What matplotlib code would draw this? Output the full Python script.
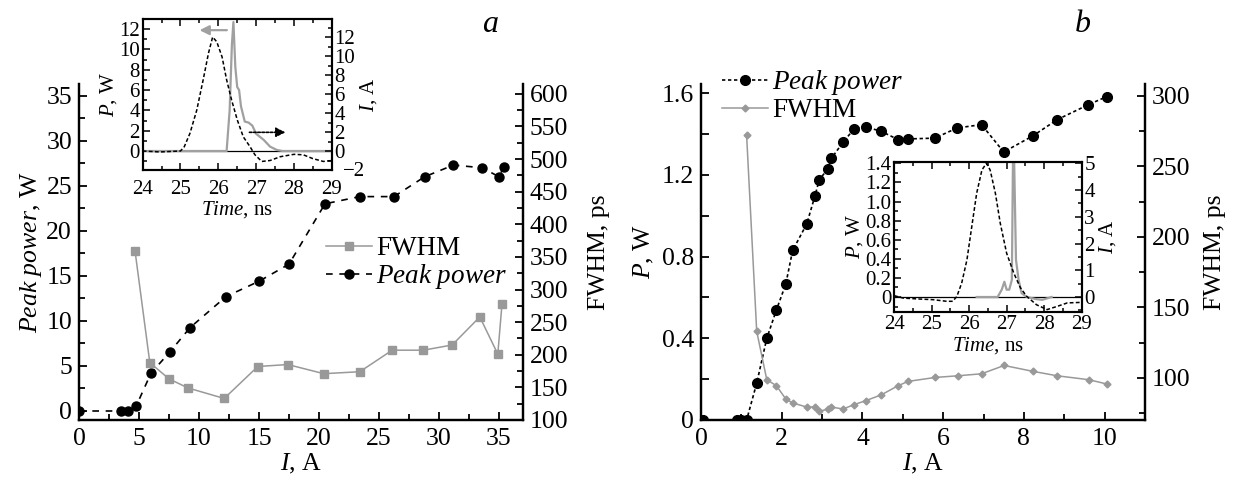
import numpy as np
import matplotlib.pyplot as plt
from matplotlib.ticker import MultipleLocator, FuncFormatter

plt.rcParams['font.family'] = ['Liberation Serif', 'DejaVu Serif']
plt.rcParams['mathtext.fontset'] = 'custom'
plt.rcParams['mathtext.rm'] = 'Liberation Serif'
plt.rcParams['mathtext.it'] = 'Liberation Serif:italic'

# ---- panel a: main ----
I_pk_a = [0.0, 3.5, 4.1, 4.75, 6.0, 7.6, 9.25, 12.25, 15.0, 17.5, 20.5, 23.4, 26.25, 28.8, 31.2, 33.6, 35.0, 35.4]
P_pk_a = [0.0, 0.0, 0.0, 0.5, 4.2, 6.6, 9.25, 12.7, 14.4, 16.3, 23.0, 23.8, 23.8, 26.0, 27.3, 27.0, 26.0, 27.1]
I_fw_a = [4.67, 5.9, 7.5, 9.1, 12.1, 14.9, 17.4, 20.4, 23.4, 26.1, 28.7, 31.1, 33.4, 34.9, 35.25]
FW_a = [359, 188, 163, 149, 133, 182, 185, 171, 174, 207, 207, 215, 258, 201, 278]

# ---- panel a: inset ----
t_a_I = [24.0, 24.46, 25.0, 25.1, 25.25, 25.43, 25.6, 25.74, 25.85, 25.96, 26.1, 26.22, 26.35,
         26.5, 26.66, 26.84, 26.97, 27.15, 27.37, 27.64, 28.0, 28.25, 28.5, 28.78, 29.0]
I_a = [0, -0.1, 0, 0.45, 1.86, 4.3, 7.5, 10.3, 12.0, 11.5, 9.9, 7.5, 5.4,
       3.3, 1.5, 0.45, -0.4, -1.1, -1.0, -0.6, -0.35, -0.4, -0.8, -1.1, -1.0]
t_a_P = [24.0, 26.22, 26.3, 26.36, 26.4, 26.45, 26.5, 26.55, 26.6, 26.7, 26.8, 26.9, 27.0,
         27.2, 27.37, 27.55, 27.7, 29.0]
P_a = [0, 0, 4.0, 10.5, 12.7, 8.3, 6.3, 6.0, 4.4, 2.9, 2.8, 2.5, 1.7, 1.1, 0.43, 0.1, 0, 0]

# ---- panel b: main ----
I_pk_b = [0.05, 0.88, 1.0, 1.13, 1.38, 1.63, 1.87, 2.10, 2.27, 2.62, 2.82, 2.93, 3.14, 3.23,
          3.52, 3.8, 4.08, 4.47, 4.88, 5.13, 5.79, 6.35, 6.95, 7.5, 8.23, 8.82, 9.6, 10.05]
P_pk_b = [0.0, 0.0, 0.0, 0.0, 0.18, 0.40, 0.54, 0.665, 0.83, 0.96, 1.095, 1.176, 1.229, 1.281,
          1.36, 1.427, 1.435, 1.413, 1.373, 1.376, 1.38, 1.43, 1.446, 1.312, 1.392, 1.47, 1.544, 1.583]
I_fw_b = [1.13, 1.38, 1.63, 1.87, 2.10, 2.27, 2.62, 2.82, 2.93, 3.14, 3.23, 3.52, 3.79, 4.08,
          4.47, 4.88, 5.13, 5.8, 6.37, 6.95, 7.51, 8.23, 8.82, 9.61, 10.06]
FW_b = [272, 133, 98.6, 94.3, 84.9, 82.1, 79.2, 79.2, 76.1, 77.8, 79.2, 77.8, 80.9, 83.7,
        87.9, 94.3, 97.4, 100.2, 101.4, 102.8, 108.7, 104.5, 101.4, 98.6, 95.5]

# ---- panel b: inset ----
t_b_I = [24.0, 24.24, 24.6, 25.04, 25.4, 25.56, 25.67, 25.8, 25.94, 26.07, 26.2, 26.34, 26.46,
         26.56, 26.7, 26.83, 27.0, 27.19, 27.37, 27.54, 27.8, 28.08, 28.35, 28.62, 29.0]
I_b = [0.05, -0.04, -0.07, -0.1, -0.16, -0.16, 0.02, 0.52, 1.39, 2.64, 3.88, 4.75, 5.0,
       4.75, 3.88, 2.76, 1.64, 0.9, 0.34, 0.02, -0.29, -0.47, -0.35, -0.22, -0.2]
t_b_P = [26.2, 26.76, 26.87, 26.94, 27.0, 27.07, 27.14, 27.17, 27.2, 27.25, 27.32, 27.4,
         27.54, 27.76, 27.95, 28.2]
P_b = [0, 0, 0.077, 0.16, 0.077, 0.077, 0.18, 1.45, 1.45, 0.39, 0.18, 0.04, 0, -0.02, -0.03, 0]

GREY = '#999999'
FS = 18.5
FS_IN = 15
W, H = 1234, 480


def rect(x0, x1, ytop, ybot):
    return [x0 / W, 1 - ybot / H, (x1 - x0) / W, (ybot - ytop) / H]


def style_main(ax, ax2):
    for a in (ax, ax2):
        a.spines['top'].set_visible(False)
        for s in ('left', 'right', 'bottom'):
            a.spines[s].set_linewidth(1.6)
        a.tick_params(which='both', direction='in', labelsize=FS, width=1.3, top=False)
        a.tick_params(which='major', length=6)
        a.tick_params(which='minor', length=4)
    ax.tick_params(axis='y', right=False, pad=5)
    ax2.tick_params(axis='y', left=False, pad=5)
    ax.tick_params(axis='x', pad=6)


def style_inset(ax, ax2):
    for a in (ax, ax2):
        for s in a.spines.values():
            s.set_linewidth(1.5)
        a.tick_params(which='both', direction='in', labelsize=FS_IN, width=1.1, top=True, pad=2)
        a.tick_params(which='major', length=5)
        a.tick_params(which='minor', length=3)
    ax.tick_params(axis='y', right=False)
    ax2.tick_params(axis='y', left=False)


fig = plt.figure(figsize=(12.34, 4.8), dpi=100)

# ================= panel a =================
ax = fig.add_axes(rect(79, 523, 84, 420))
ax2 = ax.twinx()
ax.set_xlim(0, 37)
ax.set_ylim(-1, 36.3)
ax2.set_ylim(100, 615)
ax.plot(I_pk_a, P_pk_a, color='black', ls=(0, (4, 4)), lw=1.2, marker='o', ms=6.5,
        label=r'$\mathit{Peak\ power}$')
ax2.plot(I_fw_a, FW_a, color=GREY, lw=1.1, marker='s', ms=6, label='FWHM')
ax.xaxis.set_major_locator(MultipleLocator(5))
ax.xaxis.set_minor_locator(MultipleLocator(2.5))
ax.yaxis.set_major_locator(MultipleLocator(5))
ax.yaxis.set_minor_locator(MultipleLocator(2.5))
ax2.yaxis.set_major_locator(MultipleLocator(50))
ax2.yaxis.set_minor_locator(MultipleLocator(25))
style_main(ax, ax2)
ax.set_xlabel(r'$\mathit{I}$, A', fontsize=FS, labelpad=1)
ax.set_ylabel(r'$\mathit{Peak\ power}$, W', fontsize=FS, labelpad=2)
ax2.set_ylabel('FWHM, ps', fontsize=FS, labelpad=14)
h1, l1 = ax.get_legend_handles_labels()
h2, l2 = ax2.get_legend_handles_labels()
ax.legend(h2 + h1, l2 + l1, loc='upper right', bbox_to_anchor=(507 / W, 1 - 236 / H),
          bbox_transform=fig.transFigure, frameon=False, fontsize=19.5, handlelength=1.7,
          handletextpad=0.15, labelspacing=0.05, borderpad=0, borderaxespad=0)
fig.text(490 / W, 1 - 24 / H, 'a', fontsize=23, style='italic', ha='center', va='center')

# inset a
ia = fig.add_axes(rect(142.7, 331.7, 19, 170))
ia2 = ia.twinx()
ia.set_xlim(24, 29)
ia.set_ylim(-1.87, 13)
ia2.set_ylim(-2, 13.9)
ia.axhline(0, color='black', lw=0.9)
ia.plot(t_a_P, P_a, color='#a0a0a0', lw=1.6)
ia2.plot(t_a_I, I_a, color='black', ls=(0, (2.5, 1.5)), lw=1.1)
ia.annotate('', xy=(25.43, 11.9), xytext=(26.3, 11.9),
            arrowprops=dict(arrowstyle='-|>', color='#a0a0a0', lw=1.6, mutation_scale=14))
ia.annotate('', xy=(27.85, 1.84), xytext=(26.75, 1.84),
            arrowprops=dict(arrowstyle='-|>', color='black', lw=1.2, ls=(0, (1.5, 1.0)),
                            mutation_scale=14))
ia.xaxis.set_major_locator(MultipleLocator(1))
ia.xaxis.set_minor_locator(MultipleLocator(0.5))
ia.yaxis.set_major_locator(MultipleLocator(2))
ia.yaxis.set_minor_locator(MultipleLocator(1))
ia2.yaxis.set_major_locator(MultipleLocator(2))
ia2.yaxis.set_minor_locator(MultipleLocator(1))
# the bottom "−2" label is drawn by hand, nudged right so it clears "0" above and "29" below
ia2.yaxis.set_major_formatter(FuncFormatter(lambda v, p: '' if v < -1 else f'{v:.0f}'))
ia2.annotate('\u22122', xy=(1, -2), xycoords=('axes fraction', 'data'), xytext=(8, -1),
             textcoords='offset points', ha='left', va='center', fontsize=FS_IN)
style_inset(ia, ia2)
ia.tick_params(axis='x', pad=7)
ia.set_xlabel(r'$\mathit{Time}$, ns', fontsize=FS_IN, labelpad=0)
ia.set_ylabel(r'$\mathit{P}$, W', fontsize=FS_IN, labelpad=0)
ia2.set_ylabel(r'$\mathit{I}$, A', fontsize=FS_IN, labelpad=2)

# ================= panel b =================
bx = fig.add_axes(rect(701, 1145, 84, 420))
bx2 = bx.twinx()
bx.set_xlim(0, 11)
bx.set_ylim(0, 1.645)
bx2.set_ylim(70, 308.5)
bx.plot(I_pk_b, P_pk_b, color='black', ls=(0, (2, 1.6)), lw=1.2, marker='o', ms=7,
        label=r'$\mathit{Peak\ power}$', zorder=3)
bx2.plot(I_fw_b, FW_b, color=GREY, lw=1.1, marker='D', ms=3.5, label='FWHM')
bx.xaxis.set_major_locator(MultipleLocator(2))
bx.xaxis.set_minor_locator(MultipleLocator(1))
bx.yaxis.set_major_locator(MultipleLocator(0.4))
bx.yaxis.set_minor_locator(MultipleLocator(0.2))
bx.yaxis.set_major_formatter(FuncFormatter(lambda v, p: '0' if abs(v) < 1e-9 else f'{v:.1f}'))
bx2.yaxis.set_major_locator(MultipleLocator(50))
bx2.yaxis.set_minor_locator(MultipleLocator(25))
style_main(bx, bx2)
bx.tick_params(axis='y', which='minor', length=6)
bx.set_xlabel(r'$\mathit{I}$, A', fontsize=FS, labelpad=1)
bx.set_ylabel(r'$\mathit{P}$, W', fontsize=FS, labelpad=4)
bx2.set_ylabel('FWHM, ps', fontsize=FS, labelpad=10)
h1, l1 = bx.get_legend_handles_labels()
h2, l2 = bx2.get_legend_handles_labels()
bx.legend(h1 + h2, l1 + l2, loc='upper left', bbox_to_anchor=(722 / W, 1 - 68 / H),
          bbox_transform=fig.transFigure, frameon=False, fontsize=19.5, handlelength=1.7,
          handletextpad=0.15, labelspacing=0.05, borderpad=0, borderaxespad=0)
fig.text(1083 / W, 1 - 24 / H, 'b', fontsize=23, style='italic', ha='center', va='center')

# inset b
ib = fig.add_axes(rect(894.3, 1081.5, 161.7, 312))
ib2 = ib.twinx()
ib.set_xlim(24, 29)
ib.set_ylim(-0.157, 1.417)
ib2.set_ylim(-0.56, 5.06)
ib.axhline(0, color='black', lw=0.9)
ib.plot(t_b_P, P_b, color='#a0a0a0', lw=1.6)
ib2.plot(t_b_I, I_b, color='black', ls=(0, (2.5, 1.5)), lw=1.1)
ib.xaxis.set_major_locator(MultipleLocator(1))
ib.xaxis.set_minor_locator(MultipleLocator(0.5))
ib.yaxis.set_major_locator(MultipleLocator(0.2))
ib.yaxis.set_minor_locator(MultipleLocator(0.1))
ib.yaxis.set_major_formatter(FuncFormatter(lambda v, p: '0' if abs(v) < 1e-9 else f'{v:.1f}'))
ib2.yaxis.set_major_locator(MultipleLocator(1))
ib2.yaxis.set_minor_locator(MultipleLocator(0.5))
style_inset(ib, ib2)
ib.set_xlabel(r'$\mathit{Time}$, ns', fontsize=FS_IN, labelpad=1)
ib.set_ylabel(r'$\mathit{P}$, W', fontsize=FS_IN, labelpad=0)
ib2.set_ylabel(r'$\mathit{I}$, A', fontsize=FS_IN, labelpad=2)

fig.savefig('out.png', dpi=100)
